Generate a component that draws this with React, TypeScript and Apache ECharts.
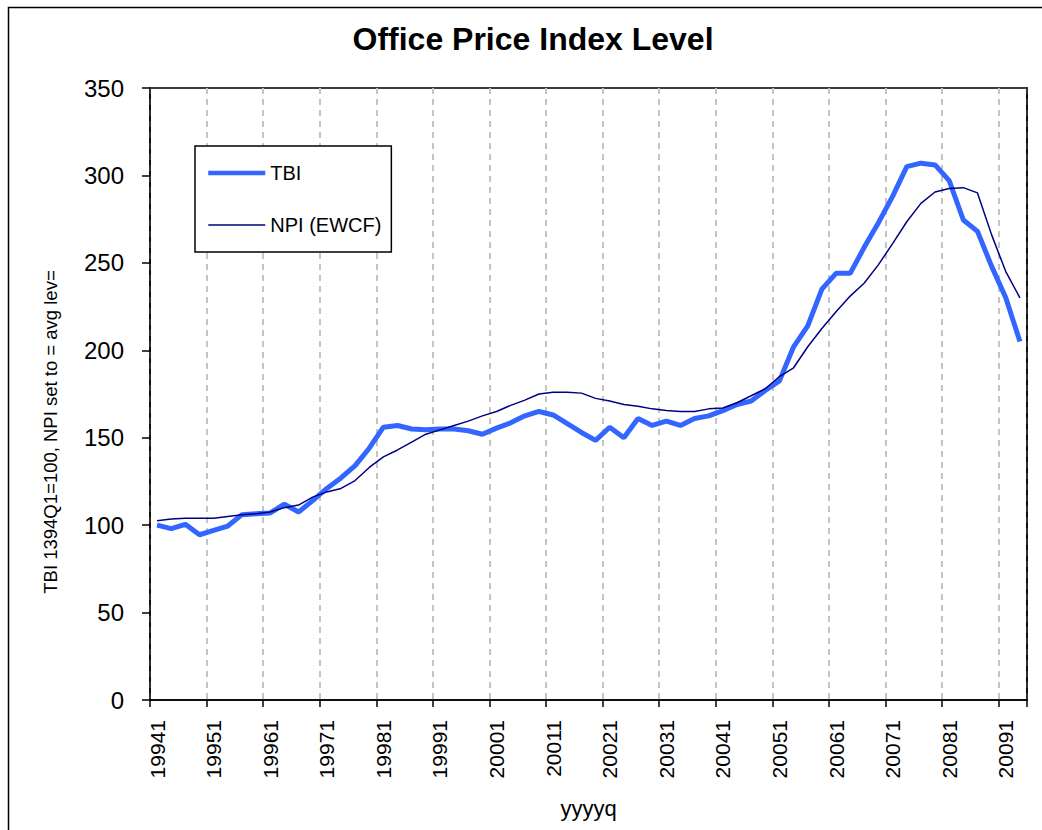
import React, { useEffect, useRef } from "react";
import * as echarts from "echarts";

const quarters: string[] = [
  "19941","19942","19943","19944","19951","19952","19953","19954",
  "19961","19962","19963","19964","19971","19972","19973","19974",
  "19981","19982","19983","19984","19991","19992","19993","19994",
  "20001","20002","20003","20004","20011","20012","20013","20014",
  "20021","20022","20023","20024","20031","20032","20033","20034",
  "20041","20042","20043","20044","20051","20052","20053","20054",
  "20061","20062","20063","20064","20071","20072","20073","20074",
  "20081","20082","20083","20084","20091","20092",
];

const tbi: number[] = [
  100, 98, 100.5, 94.5, 97, 99.5, 106, 106.5,
  107, 112, 107.5, 114, 121, 127, 134, 144,
  156, 157, 155, 154.5, 155, 155, 154, 152,
  155.5, 158.5, 162.5, 165, 163, 158, 153, 148.5,
  156, 150, 161, 157, 159.5, 157, 161, 162.5,
  165.5, 169, 171, 177, 182.5, 202, 214, 235,
  244, 244, 259, 273, 288, 305, 307, 306,
  297, 274.5, 268, 248, 230, 205,
];

const npi: number[] = [
  102.5, 103.5, 104, 104, 104, 105, 106, 106.5,
  107.5, 110, 111.5, 116, 119, 121, 125.5, 133,
  139, 143, 147.5, 152, 154.5, 157, 159.5, 162.5,
  165, 168.5, 171.5, 175, 176, 176, 175.5, 172.5,
  171, 169, 168, 166.5, 165.5, 165, 165, 166.5,
  167, 170, 174, 178, 185, 190, 202, 212.5,
  222, 231, 238.5, 249, 261, 273.5, 284, 290.5,
  292.5, 293, 290, 266, 245, 230,
];

const FONT = "'Liberation Sans', Arial, Helvetica, sans-serif";
const TBI_COLOR = "#3366ff";
const NPI_COLOR = "#000080";

export default function App() {
  const ref = useRef<HTMLDivElement>(null);

  useEffect(() => {
    if (!ref.current) return;
    const chart = echarts.init(ref.current, undefined, { renderer: "svg" });
    chart.setOption({
      animation: false,
      backgroundColor: "#fff",
      title: {
        text: "Office Price Index Level",
        left: 528,
        top: 18,
        textAlign: "center",
        textStyle: { fontFamily: FONT, fontWeight: "bold", fontSize: 32, color: "#000" },
      },
      graphic: [
        {
          type: "rect",
          shape: { x: 8.5, y: 7.5, width: 1200, height: 1000 },
          style: { fill: "none", stroke: "#000", lineWidth: 1.5 },
          silent: true,
        },
      ],
      legend: {
        left: 195,
        top: 146,
        orient: "vertical",
        itemWidth: 57,
        itemHeight: 20,
        itemGap: 32,
        padding: [17, 10, 17, 11],
        borderColor: "#000",
        borderWidth: 1.5,
        backgroundColor: "#fff",
        itemStyle: { opacity: 0 },
        textStyle: { fontFamily: FONT, fontSize: 20, color: "#000" },
        data: [
          { name: "TBI", lineStyle: { width: 4.5, color: TBI_COLOR }, itemStyle: { opacity: 0 } },
          { name: "NPI (EWCF)", lineStyle: { width: 1.5, color: NPI_COLOR }, itemStyle: { opacity: 0 } },
        ],
      },
      grid: {
        left: 150,
        top: 88,
        right: 15,
        bottom: 130,
        show: true,
        borderColor: "#000",
        borderWidth: 1.5,
        backgroundColor: "#fff",
      },
      xAxis: {
        type: "category",
        data: quarters,
        boundaryGap: true,
        name: "yyyyq",
        nameLocation: "middle",
        nameGap: 97,
        nameTextStyle: { fontFamily: FONT, fontSize: 22, color: "#000" },
        axisLine: { lineStyle: { color: "#000", width: 1.5 } },
        axisTick: { show: true, interval: 3, length: 7, lineStyle: { color: "#000", width: 1.5 } },
        axisLabel: {
          interval: 3,
          rotate: 90,
          margin: 20,
          fontFamily: FONT,
          fontSize: 21,
          color: "#000",
        },
        splitLine: {
          show: true,
          interval: 3,
          lineStyle: { color: "#c4c4c4", width: 2, type: [6, 5] },
        },
      },
      yAxis: [
        {
          type: "value",
          min: 0,
          max: 350,
          interval: 50,
          name: "TBI 1394Q1=100, NPI set to = avg lev=",
          nameLocation: "middle",
          nameGap: 90,
          nameTextStyle: { fontFamily: FONT, fontSize: 18.5, color: "#000", padding: [0, 76, 0, 0] },
          axisLine: { show: true, lineStyle: { color: "#000", width: 1.5 } },
          axisTick: { show: true, length: 8, lineStyle: { color: "#000", width: 1.5 } },
          axisLabel: { margin: 26, fontFamily: FONT, fontSize: 24, color: "#000" },
          splitLine: { show: false },
        },
        {
          type: "value",
          position: "right",
          min: 0,
          max: 350,
          interval: 50,
          axisLine: { show: true, lineStyle: { color: "#000", width: 1.5 } },
          axisTick: { show: false },
          axisLabel: { show: false },
          splitLine: { show: false },
        },
      ],
      series: [
        {
          name: "TBI",
          type: "line",
          data: tbi,
          symbol: "none",
          lineStyle: { color: TBI_COLOR, width: 5 },
          itemStyle: { color: TBI_COLOR },
        },
        {
          name: "NPI (EWCF)",
          type: "line",
          data: npi,
          symbol: "none",
          lineStyle: { color: NPI_COLOR, width: 1.5 },
          itemStyle: { color: NPI_COLOR },
        },
      ],
    });
    return () => chart.dispose();
  }, []);

  return (
    <div
      ref={ref}
      style={{ position: "absolute", left: 0, top: 0, width: 1042, height: 830 }}
    />
  );
}
